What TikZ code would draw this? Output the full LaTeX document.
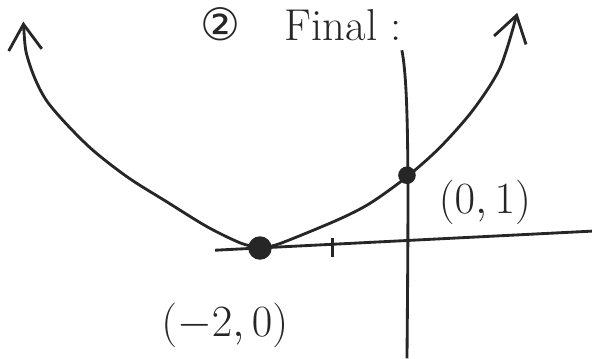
\documentclass[tikz,border=0pt]{standalone}
\usepackage{fontspec}
\usepackage{tikz}
\usetikzlibrary{arrows.meta}
\newfontfamily\circfont{DejaVu Sans}

\begin{document}
\begin{tikzpicture}[line width=1.1pt, color={black!85},
        >={Straight Barb[length=3.5mm,width=4.5mm]},
        lbl/.style={font=\LARGE}]
        \useasboundingbox (-5.537,-1.497) rectangle (2.517,3.374);
        % axes
        \coordinate (xl) at (-2.61,-0.03);
        \coordinate (xr) at (2.52,0.23);
        \coordinate (yt) at (-0.07,2.69);
        \coordinate (yb) at (0,-1.5);
        \draw (xl) -- (xr);
        \draw (yb) .. controls (0.02,0.8) and (0.03,2.2) .. (yt);
        \draw (-1.01,-0.12) -- (-1.01,0.14);
        % curve
        \draw[<-] plot[smooth] coordinates {(-5.22,3.08) (-5.15,2.55) (-4.9,2.0) (-4.35,1.4)
            (-3.81,0.97) (-3.27,0.63) (-2.72,0.29) (-2.27,0.07) (-2,0)};
        \draw[->] plot[smooth] coordinates {(-2,0) (-1.73,0.06) (-0.95,0.38) (-0.5,0.61)
            (0,0.97) (0.45,1.37) (0.9,1.88) (1.27,2.46) (1.5,3.2)};
        \filldraw (-2,0) circle (0.14) coordinate (vtx);
        \filldraw (0,0.99) circle (0.1) coordinate (yint);
        \node[lbl] (yintlbl) at (1.06,0.62) {$(0,1)$};
        \node[lbl] (vtxlbl) at (-2.48,-1.05) {$(-2,0)$};
        \node[font=\LARGE, anchor=west] (title) at (-2.95,3.04) {{\circfont ②}\quad Final :};
\end{tikzpicture}
\end{document}
